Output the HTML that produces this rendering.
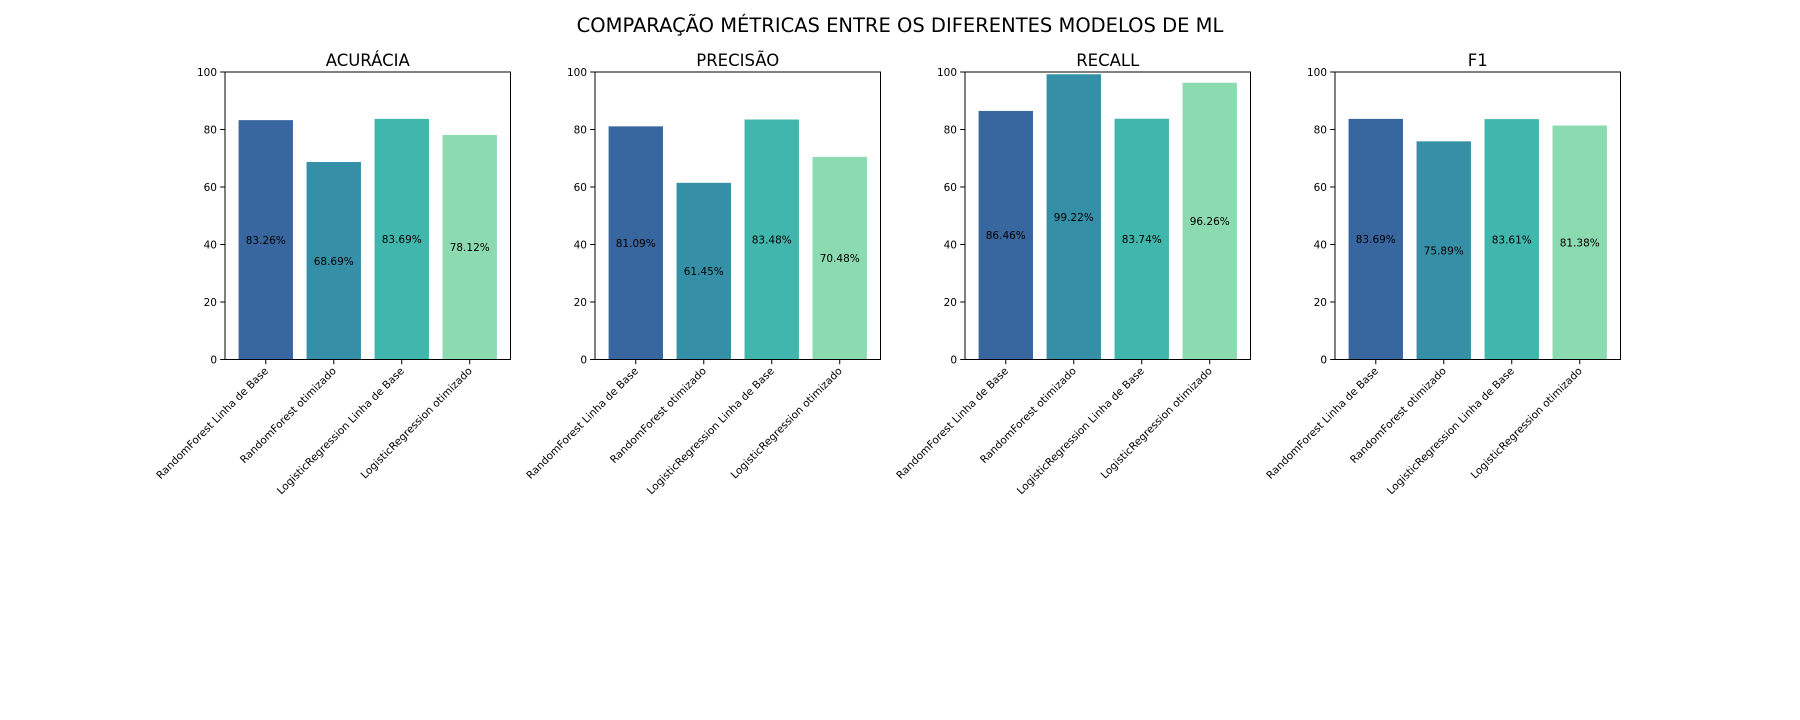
<!DOCTYPE html>
<html><head><meta charset="utf-8"><style>
html,body{margin:0;padding:0;background:#fff;}
svg{display:block;font-family:"DejaVu Sans","Liberation Sans",sans-serif;}
</style></head><body>
<svg id="chart" width="1800" height="720" viewBox="0 0 1800 720">
<text x="900" y="32" text-anchor="middle" font-size="19.5" fill="#000">COMPARAÇÃO MÉTRICAS ENTRE OS DIFERENTES MODELOS DE ML</text>
</svg>
<script>
const categories = ["RandomForest Linha de Base","RandomForest otimizado","LogisticRegression Linha de Base","LogisticRegression otimizado"];
const metrics = ["ACURÁCIA","PRECISÃO","RECALL","F1"];
const acuracia = [83.26,68.69,83.69,78.12];
const precisao = [81.09,61.45,83.48,70.48];
const recall = [86.46,99.22,83.74,96.26];
const f1 = [83.69,75.89,83.61,81.38];
const yTicks = [0,20,40,60,80,100];
const series = [acuracia, precisao, recall, f1];
const colors = ["#38669e","#3590a7","#41b6ad","#8cdab0"];
const NS = "http://www.w3.org/2000/svg";
const svg = document.getElementById('chart');
function mk(tag, attrs, parent){const e=document.createElementNS(NS,tag);for(const k in attrs)e.setAttribute(k,attrs[k]);(parent||svg).appendChild(e);return e;}
const axTop=72, axBot=359.5, axW=285.5;
series.forEach((vals, m) => {
  const left = 225 + m*370;
  const g = mk('g', {});
  
  
  const xS = v => left + (v + 0.6) / 4.2 * axW;
  const yS = v => axBot - v / 100 * (axBot - axTop);
  const t = mk('text', {x: left + axW/2, y: 66, 'text-anchor':'middle','font-size':16.5}, g);
  t.textContent = metrics[m];
  
  
  vals.forEach((v, i) => {
    const r = mk('rect', {x: xS(i-0.4), y: yS(v), width: xS(i+0.4)-xS(i-0.4), height: axBot - yS(v), fill: colors[i]}, g);
    
    
    const lb = mk('text', {x: xS(i), y: yS(v/2)+4, 'text-anchor':'middle','font-size':10.5,fill:'#000'}, g);
    lb.textContent = v.toFixed(2) + '%';
    
    
    mk('line', {x1: xS(i), x2: xS(i), y1: axBot, y2: axBot+4.8, stroke:'#000','stroke-width':1}, g);
    const cx = xS(i) + 3, cy = axBot + 12;
    const tl = mk('text', {x: cx, y: cy, 'text-anchor':'end','font-size':10.5, transform:`rotate(-45 ${cx} ${cy})`}, g);
    tl.textContent = categories[i];
    
    
  });
  yTicks.forEach(v => {
    mk('line', {x1: left-4.8, x2: left, y1: yS(v), y2: yS(v), stroke:'#000','stroke-width':1}, g);
    const yl = mk('text', {x: left-8, y: yS(v)+4, 'text-anchor':'end','font-size':10.5}, g);
    yl.textContent = v;
    
    
  });
  const fr = mk('rect', {x: left, y: axTop, width: axW, height: axBot-axTop, fill:'none', stroke:'#000','stroke-width':1}, g);
  
  
});
</script>
</body></html>
